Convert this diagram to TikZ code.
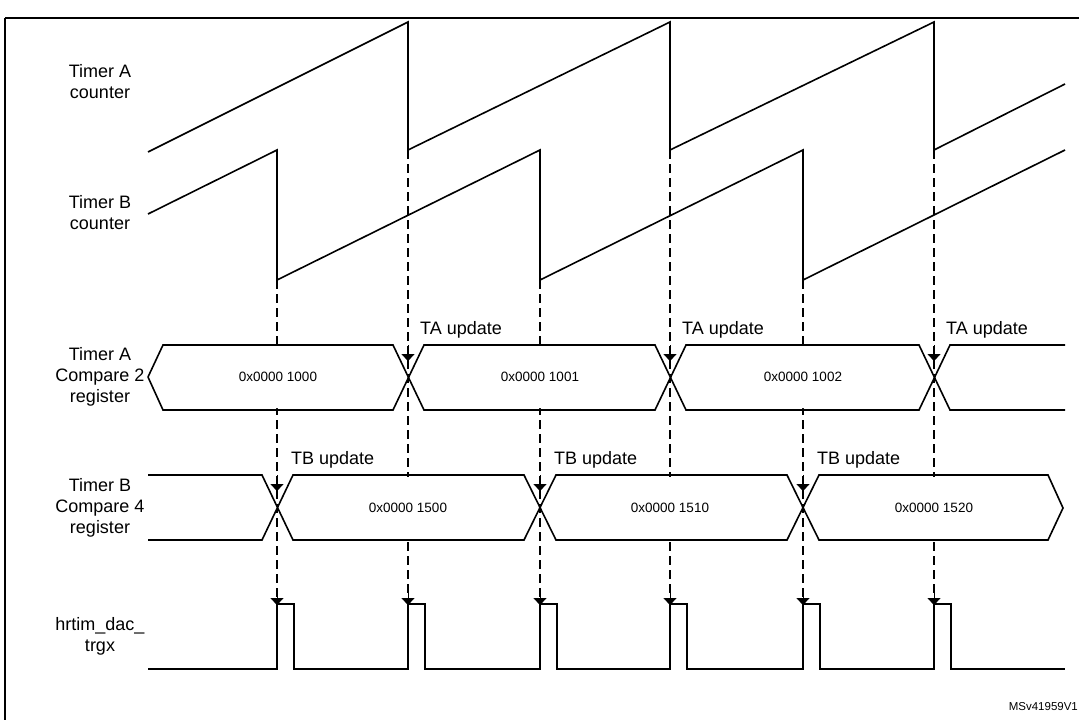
\documentclass[tikz,border=0pt]{standalone}
\usepackage{fontspec}
\setmainfont{Liberation Sans}
\usetikzlibrary{arrows.meta}
\begin{document}
\begin{tikzpicture}[x=1pt,y=-1pt,line width=1.6pt,
  lbl/.style={align=center,font=\fontsize{18}{21}\selectfont},
  val/.style={font=\fontsize{13.5}{15}\selectfont},
  upd/.style={font=\fontsize{18}{21}\selectfont,anchor=west},
  dsh/.style={dash pattern=on 9pt off 5pt,line width=1.3pt},
  arr/.style={-{Triangle[width=13pt,length=7pt]}},
  bus/.style={fill=white,draw=none}]
\useasboundingbox (0,0) rectangle (1079,720);
\draw[line width=1.4pt] (5,18) -- (1085,18) (5,18) -- (5,725);
% labels
\node[lbl] (la) at (100,82) {Timer A\\counter};
\node[lbl] (lb) at (100,213) {Timer B\\counter};
\node[lbl] (lc) at (100,377) {Timer A\\Compare 2\\register};
\node[lbl] (ld) at (100,508) {Timer B\\Compare 4\\register};
\node[lbl] (le) at (100,636) {hrtim\_dac\_\\trgx};
% counters
\draw (148,152) -- (408,22) -- (408,150) -- (670,22) -- (670,150) -- (934,22) -- (934,150) -- (1065,84);
\draw (148,214) -- (277,150) -- (277,280) -- (540,150) -- (540,280) -- (803,150) -- (803,280) -- (1065,150);
% dashed lines
\foreach \x in {277,540,803} \draw[dsh] (\x,280) -- (\x,598);
\foreach \x in {408,670,934} \draw[dsh] (\x,150) -- (\x,598);
% bus A
\fill[white] (150,377) -- (164,347) -- (392,347) -- (408,377) -- (392,408) -- (164,408) -- cycle;
\fill[white] (425,347) -- (654,347) -- (670,377) -- (654,408) -- (425,408) -- (408,377) -- cycle;
\fill[white] (687,347) -- (918,347) -- (934,377) -- (918,408) -- (687,408) -- (670,377) -- cycle;
\fill[white] (951,347) -- (1065,347) -- (1065,408) -- (951,408) -- (934,377) -- cycle;
\draw (148,377) -- (163,345) -- (393,345) -- (424,410) -- (655,410) -- (686,345) -- (919,345) -- (950,410) -- (1065,410);
\draw (1065,345) -- (950,345) -- (919,410) -- (686,410) -- (655,345) -- (424,345) -- (393,410) -- (163,410) -- (148,377);
\node[val] (va1) at (278,377) {0x0000 1000};
\node[val] (va2) at (540,377) {0x0000 1001};
\node[val] (va3) at (803,377) {0x0000 1002};
% bus B
\fill[white] (148,477) -- (262,477) -- (277,508) -- (262,538) -- (148,538) -- cycle;
\fill[white] (293,477) -- (524,477) -- (540,508) -- (524,538) -- (293,538) -- (277,508) -- cycle;
\fill[white] (556,477) -- (787,477) -- (803,508) -- (787,538) -- (556,538) -- (540,508) -- cycle;
\fill[white] (819,477) -- (1048,477) -- (1062,508) -- (1048,538) -- (819,538) -- (803,508) -- cycle;
\draw (148,475) -- (262,475) -- (293,540) -- (524,540) -- (556,475) -- (787,475) -- (819,540) -- (1048,540) -- (1063,508) -- (1048,475) -- (819,475) -- (787,540) -- (556,540) -- (524,475) -- (293,475) -- (262,540) -- (148,540);
\node[val] (vb1) at (408,508) {0x0000 1500};
\node[val] (vb2) at (670,508) {0x0000 1510};
\node[val] (vb3) at (934,508) {0x0000 1520};
% arrowheads
\foreach \x in {408,670,934} {\draw[arr,line width=0.1pt] (\x,345) -- (\x,361); \node[upd] at (\x+8,330) {TA update};}
\foreach \x in {277,540,803} {\draw[arr,line width=0.1pt] (\x,475) -- (\x,491); \node[upd] at (\x+10,460) {TB update};}
\foreach \x in {277,408,540,670,803,934} \draw[arr,line width=0.1pt] (\x,590) -- (\x,605);
% trigger
\draw (148,669) -- (277,669) -- (277,604) -- (294,604) -- (294,669) -- (408,669) -- (408,604) -- (425,604) -- (425,669) -- (540,669) -- (540,604) -- (557,604) -- (557,669) -- (670,669) -- (670,604) -- (687,604) -- (687,669) -- (803,669) -- (803,604) -- (820,604) -- (820,669) -- (934,669) -- (934,604) -- (951,604) -- (951,669) -- (1065,669);
\node[font=\fontsize{11.5}{13}\selectfont,anchor=east] (ms) at (1082,707) {MSv41959V1};
\end{tikzpicture}
\end{document}
